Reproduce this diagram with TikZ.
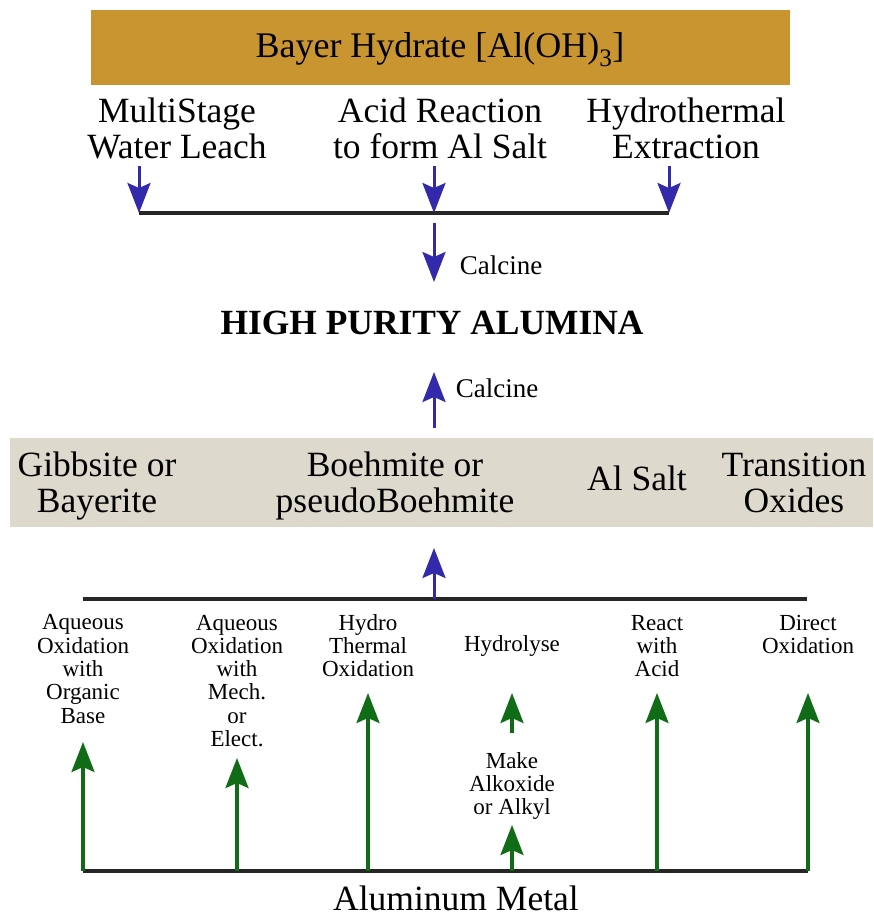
\documentclass[tikz,border=0pt]{standalone}
\usepackage{fontspec}
\setmainfont{Liberation Serif}
\usetikzlibrary{arrows.meta}

\definecolor{hydrate}{RGB}{200,149,49}
\definecolor{phases}{RGB}{221,217,205}
\definecolor{procblue}{RGB}{50,42,170}
\definecolor{procgreen}{RGB}{16,108,22}

\begin{document}
\begin{tikzpicture}[x=1pt, y=-1pt, >={Stealth[length=30pt, width=23pt, inset=5pt]},
    bigtext/.style={font=\fontsize{35.5}{36}\selectfont, align=center, inner sep=0pt, anchor=base},
    smalltext/.style={font=\fontsize{23}{23.3}\selectfont, align=center, inner sep=0pt, anchor=base},
    calcine/.style={font=\fontsize{27}{28}\selectfont, inner sep=0pt, anchor=base},
    bluearrow/.style={->, line width=3pt, procblue},
    greenarrow/.style={->, line width=3.2pt, procgreen},
    bar/.style={line width=3.2pt, black!85}]
    \useasboundingbox (0,0) rectangle (873,917);

    % Define boxes
    \node[fill=hydrate, minimum width=699pt, minimum height=75pt, inner sep=0pt] (bayer) at (440.5,47.5) {};
    \node[fill=phases, minimum width=863pt, minimum height=89pt, inner sep=0pt] (phasebox) at (441.5,482.5) {};

    % Label routes
    \node[bigtext, font=\fontsize{36}{36}\selectfont] (bayerlabel) at (440,58) {Bayer Hydrate [Al(OH)\textsubscript{3}]};
    \node[bigtext] (leach) at (177,159) {MultiStage\\Water Leach};
    \node[bigtext] (acid) at (440,159) {Acid Reaction\\to form Al Salt};
    \node[bigtext] (hydro) at (686,159) {Hydrothermal\\Extraction};
    \node[calcine] (calcdown) at (501,274) {Calcine};
    \node[bigtext, font=\fontsize{35.4}{36}\selectfont\bfseries] (hpa) at (432,334) {HIGH PURITY ALUMINA};
    \node[calcine] (calcup) at (497,397) {Calcine};
    \node[bigtext] (gibbsite) at (97,512) {Gibbsite or\\Bayerite};
    \node[bigtext] (boehmite) at (395,512) {Boehmite or\\pseudoBoehmite};
    \node[bigtext] (alsalt) at (637,490) {Al Salt};
    \node[bigtext] (transition) at (794,512) {Transition\\Oxides};
    \node[smalltext] (organic) at (83,723) {Aqueous\\Oxidation\\with\\Organic\\Base};
    \node[smalltext] (mech) at (237,746.5) {Aqueous\\Oxidation\\with\\Mech.\\or\\Elect.};
    \node[smalltext] (thermal) at (368,676.6) {Hydro\\Thermal\\Oxidation};
    \node[smalltext] (hydrolyse) at (512,651) {Hydrolyse};
    \node[smalltext] (react) at (657,676.6) {React\\with\\Acid};
    \node[smalltext] (direct) at (808,653.3) {Direct\\Oxidation};
    \node[smalltext] (alkoxide) at (512,814.6) {Make\\Alkoxide\\or Alkyl};
    \node[bigtext] (metal) at (456,910) {Aluminum Metal};

    % Define coordinates
    \coordinate (leachA) at (139,166);
    \coordinate (leachB) at (139,213);
    \coordinate (acidA) at (434,166);
    \coordinate (acidB) at (434,213);
    \coordinate (hydroA) at (669,166);
    \coordinate (hydroB) at (669,213);
    \coordinate (calcA) at (434,223);
    \coordinate (calcB) at (434,282);
    \coordinate (calcC) at (434,428);
    \coordinate (calcD) at (434,372);
    \coordinate (phaseA) at (434,599);
    \coordinate (phaseB) at (434,548);
    \coordinate (barL) at (83,599);
    \coordinate (barR) at (807,599);
    \coordinate (metalL) at (83,871);
    \coordinate (metalR) at (808,871);
    \coordinate (organicA) at (83,871);
    \coordinate (organicB) at (83,742);
    \coordinate (mechA) at (237,871);
    \coordinate (mechB) at (237,758);
    \coordinate (thermalA) at (368,871);
    \coordinate (thermalB) at (368,693);
    \coordinate (alkoxideA) at (512,871);
    \coordinate (alkoxideB) at (512,825);
    \coordinate (hydrolyseA) at (512,733);
    \coordinate (hydrolyseB) at (512,693);
    \coordinate (reactA) at (657,871);
    \coordinate (reactB) at (657,693);
    \coordinate (directA) at (808,871);
    \coordinate (directB) at (808,693);

    % Draw bars
    \draw[bar] (leachB) -- (hydroB);
    \draw[bar] (barL) -- (barR);
    \draw[bar] (metalL) -- (metalR);

    % Draw blue arrows
    \draw[bluearrow] (leachA) -- (leachB);
    \draw[bluearrow] (acidA) -- (acidB);
    \draw[bluearrow] (hydroA) -- (hydroB);
    \draw[bluearrow] (calcA) -- (calcB);
    \draw[bluearrow] (calcC) -- (calcD);
    \draw[bluearrow] (phaseA) -- (phaseB);

    % Draw green arrows
    \draw[greenarrow] (organicA) -- (organicB);
    \draw[greenarrow] (mechA) -- (mechB);
    \draw[greenarrow] (thermalA) -- (thermalB);
    \draw[greenarrow] (alkoxideA) -- (alkoxideB);
    \draw[greenarrow] (hydrolyseA) -- (hydrolyseB);
    \draw[greenarrow] (reactA) -- (reactB);
    \draw[greenarrow] (directA) -- (directB);
\end{tikzpicture}
\end{document}
